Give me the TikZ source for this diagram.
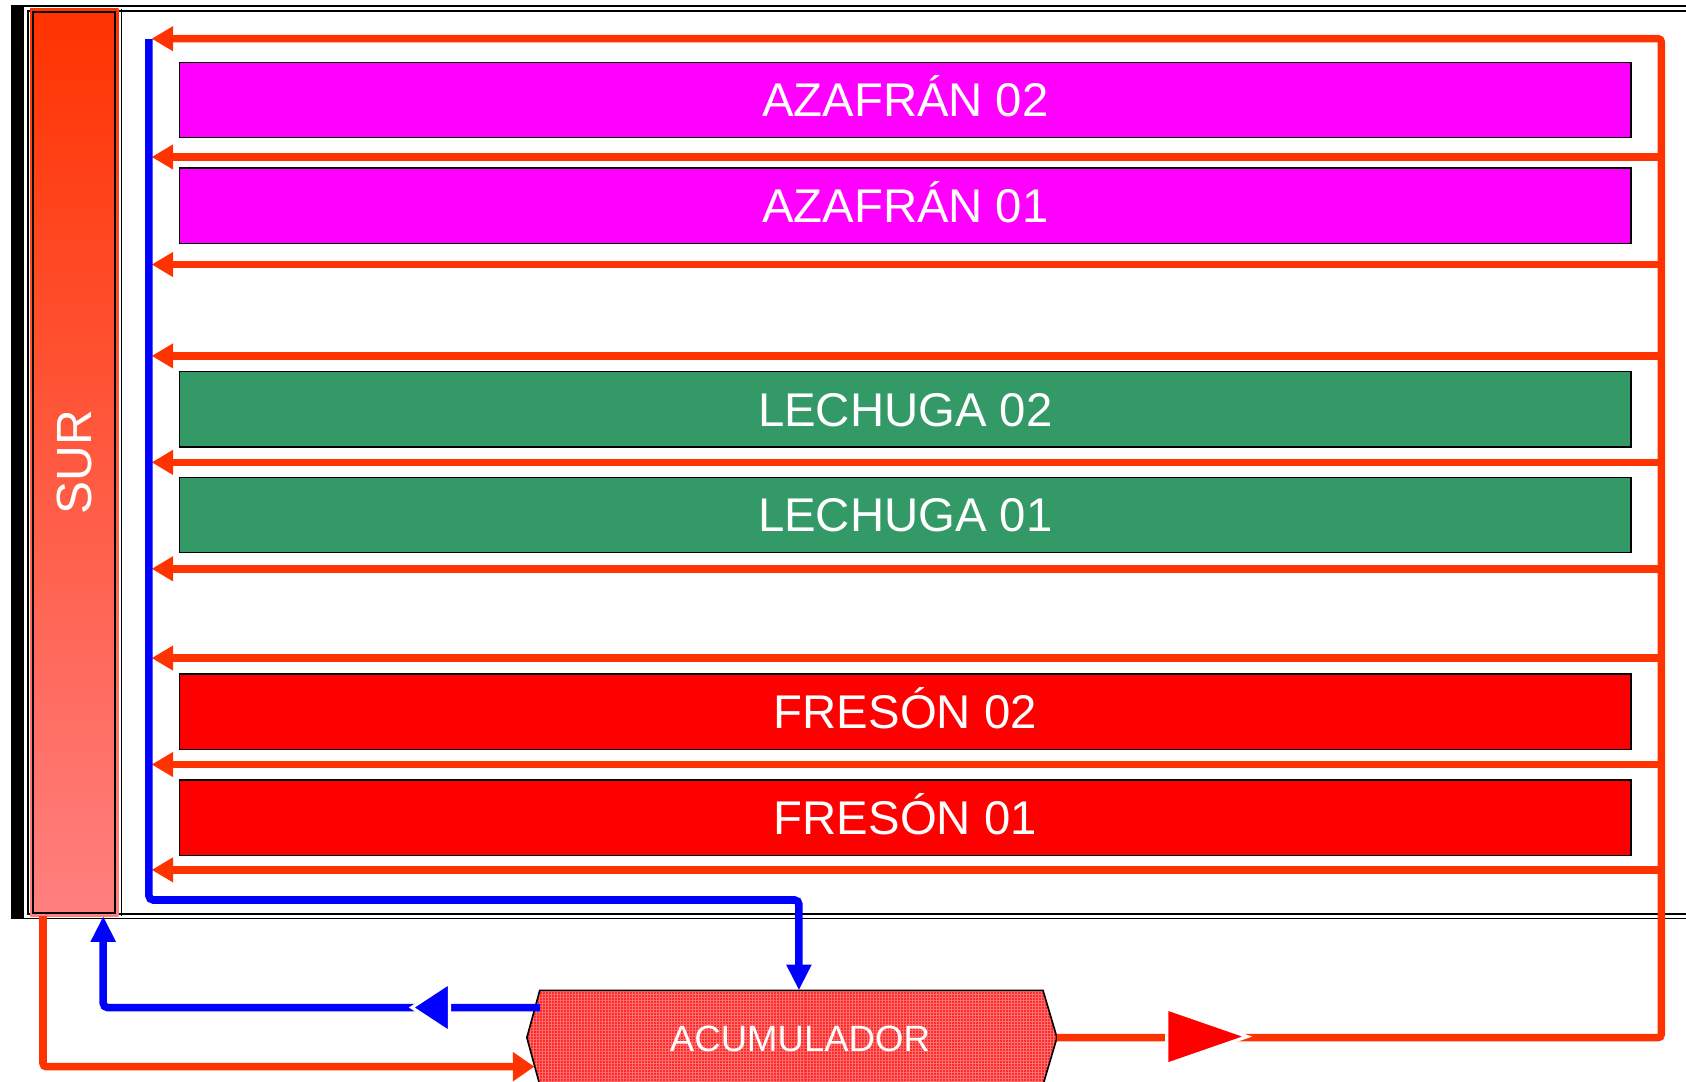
\documentclass[tikz,border=0pt]{standalone}
\usepackage{fontspec}
\setmainfont{Liberation Sans}
\usetikzlibrary{arrows.meta,calc,patterns.meta}
\definecolor{lred}{HTML}{FF3300}
\definecolor{lblue}{HTML}{0000FF}
\definecolor{mag}{HTML}{FF00FF}
\definecolor{lgreen}{HTML}{339966}
\definecolor{fred}{HTML}{FF0000}
\definecolor{acc}{HTML}{FF2A2A}
\definecolor{accdot}{HTML}{FF7070}
\definecolor{surtop}{HTML}{FF3300}
\definecolor{surbot}{HTML}{FF8080}
\begin{document}
\begin{tikzpicture}[x=1pt,y=-1pt,
  bed/.style={draw=black, line width=1.5pt, minimum width=1350pt, minimum height=70pt,
    inner sep=0pt, text=white, font=\fontsize{44}{50}\selectfont, text height=31.5pt, text depth=0pt},
  flow/.style={draw=lred, line width=7pt},
  ret/.style={draw=lblue, line width=7pt},
  rtip/.style={-{Triangle[length=20pt,width=22pt]}},
  btip/.style={-{Triangle[length=24pt,width=22pt]}},
]
\clip (0,0) rectangle (1568,1006);
\fill[white] (0,0) rectangle (1568,1006);

% frame
\draw[double=white, double distance=3pt, line width=1.5pt] (24,8) rectangle (1620,852);
\draw[line width=1.6pt] (113,8) -- (113,852);
\fill[black] (10,5) rectangle (22,855);

% SUR column
\node[minimum width=82pt, minimum height=844pt, inner sep=0pt,
      top color=surtop, bottom color=surbot] (sur) at (69,430) {};
\draw[line width=2pt] ([shift={(3pt,3pt)}]sur.south west) rectangle ([shift={(-3pt,-3pt)}]sur.north east);
\node[rotate=90, text=white, font=\fontsize{46}{50}\selectfont, text height=33pt, text depth=0pt] (surtxt) at (sur.center) {SUR};

% beds
\node[bed, fill=mag]    (az2) at (842,93)    {AZAFRÁN 02};
\node[bed, fill=mag]    (az1) at (842,191.5) {AZAFRÁN 01};
\node[bed, fill=lgreen] (le2) at (842,380.5) {LECHUGA 02};
\node[bed, fill=lgreen] (le1) at (842,479)   {LECHUGA 01};
\node[bed, fill=fred]   (fr2) at (842,662)   {FRESÓN 02};
\node[bed, fill=fred]   (fr1) at (842,760.5) {FRESÓN 01};

% accumulator
\fill[acc] (502,921) -- (970,921) -- (983,965) -- (970,1009) -- (502,1009) -- (490,965) -- cycle;
\fill[pattern={Lines[angle=0,distance=2.8pt,line width=0.7pt]}, pattern color=accdot]
  (502,921) -- (970,921) -- (983,965) -- (970,1009) -- (502,1009) -- (490,965) -- cycle;
\fill[pattern={Lines[angle=90,distance=2.8pt,line width=0.7pt]}, pattern color=accdot]
  (502,921) -- (970,921) -- (983,965) -- (970,1009) -- (502,1009) -- (490,965) -- cycle;
\draw[black, line width=1.5pt] (502,921) -- (970,921) -- (983,965) -- (970,1009) -- (502,1009) -- (490,965) -- cycle;
\node[minimum width=468pt, minimum height=88pt, inner sep=0pt, text=white,
      font=\fontsize{34}{40}\selectfont, text height=24.5pt, text depth=0pt] (acum) at (744,966) {ACUMULADOR};

% coordinates
\coordinate (acce) at (983,965);
\coordinate (rbot) at (1545,965);
\coordinate (rtop) at (1545,36);
\coordinate (ltop) at (141,36);
\coordinate (bstart) at (138.5,36.5);
\coordinate (bcorner1) at (138.5,837);
\coordinate (bcorner2) at (743,837);
\coordinate (accin) at (743,921);
\coordinate (accout) at (502,937);
\coordinate (bcorner3) at (96,937);
\coordinate (surin) at (96,852);
\coordinate (surout) at (40,852);
\coordinate (rcorner) at (40,992);
\coordinate (accin2) at (497,992);
\coordinate (rtri) at (1122,964);
\coordinate (btri) at (401,937);

% red return lines
\foreach \i/\y in {1/146,2/246,3/331,4/430,5/529,6/612,7/711,8/809}{
  \coordinate (e\i) at (1545,\y);
  \coordinate (w\i) at (141,\y);
  \draw[flow, rtip] (e\i) -- (w\i);
}
\draw[flow, rtip, rounded corners=3pt] (acce) -- (rbot) -- (rtop) -- (ltop);

% bottom-left red
\draw[flow, rounded corners=3pt, -{Triangle[length=20pt,width=26pt]}] (surout) -- (rcorner) -- (accin2);

% blue
\draw[ret, rounded corners=4pt, btip] (bstart) -- (bcorner1) -- (bcorner2) -- (accin);
\draw[ret, rounded corners=4pt, btip] (accout) -- (bcorner3) -- (surin);

% big mid arrows
\filldraw[fill=fred, draw=white, line width=3pt] ($(rtri)+(-37,-26)$) -- ($(rtri)+(38,0)$) -- ($(rtri)+(-37,26)$) -- cycle;
\filldraw[fill=lblue, draw=white, line width=3pt] ($(btri)+(17,-23)$) -- ($(btri)+(-18,0)$) -- ($(btri)+(17,23)$) -- cycle;
\end{tikzpicture}
\end{document}
